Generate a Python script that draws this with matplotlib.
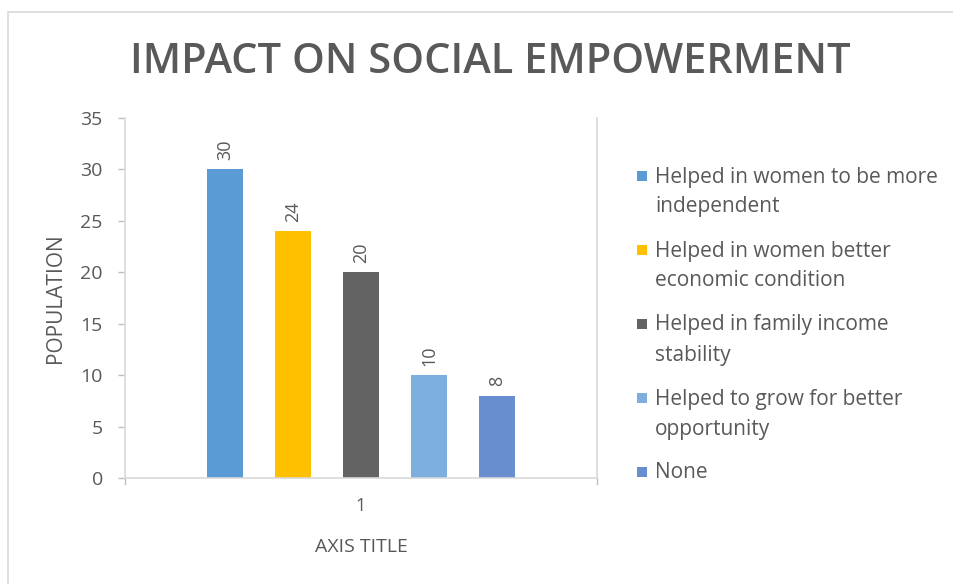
import matplotlib
matplotlib.use("Agg")
import matplotlib.pyplot as plt
from matplotlib.patches import Rectangle

plt.rcParams['font.family'] = ['Open Sans', 'DejaVu Sans']

categories = ["Helped in women to be more\nindependent",
              "Helped in women better\neconomic condition",
              "Helped in family income\nstability",
              "Helped to grow for better\nopportunity",
              "None"]
values = [30, 24, 20, 10, 8]
colors = ["#5b9bd5", "#ffc000", "#636363", "#7cafdd", "#698ed0"]
x_tick_labels = ["1"]
y_ticks = [0, 5, 10, 15, 20, 25, 30, 35]

W, H = 954, 584
fig = plt.figure(figsize=(W / 100, H / 100), dpi=100)
fig.patch.set_facecolor("white")

# outer chart border
fig.add_artist(Rectangle((8 / W, -0.1), 1.2, 1 - 12 / H + 0.1, transform=fig.transFigure,
                         fill=False, edgecolor="#d9d9d9", linewidth=1.2))

ax = fig.add_axes([125 / W, 1 - 478 / H, (597 - 125) / W, (478 - 118) / H])
txtc = "#595959"
spc = 0.144
bw = 0.0763
for i, (c, v, col) in enumerate(zip(categories, values, colors)):
    xpos = (i - 2) * spc
    ax.bar(xpos, v, width=bw, color=col, label=c)
    ax.text(xpos, v + 0.9, str(v), rotation=90, ha="center", va="bottom",
            fontsize=13, color=txtc)

ax.set_xlim(-0.5, 0.5)
ax.set_ylim(0, 35)
ax.set_yticks(y_ticks)
ax.set_xticks([0])
ax.set_xticklabels(x_tick_labels)
ax.tick_params(axis="y", colors="#bfbfbf", labelcolor=txtc, labelsize=14, length=5, width=1, pad=11)
ax.tick_params(axis="x", length=0, labelcolor=txtc, labelsize=13, pad=14)
# category boundary ticks on x axis
for xb in (-0.5, 0.5):
    ax.plot([xb, xb], [0, -0.6], color="#bfbfbf", lw=1, clip_on=False)
ax.spines["top"].set_visible(False)
for s in ("left", "bottom", "right"):
    ax.spines[s].set_color("#d9d9d9")
    ax.spines[s].set_linewidth(1.2)

ax.set_ylabel("POPULATION", fontsize=15, color=txtc, labelpad=10)
ax.set_xlabel("AXIS TITLE", fontsize=14, color=txtc, labelpad=16)

fig.text(490 / W, 1 - 62 / H, "IMPACT ON SOCIAL EMPOWERMENT", ha="center", va="center",
         fontsize=30, fontweight="semibold", color=txtc)

# legend (square aligned with the first text line, as in the original)
leg_x_sq, leg_x_txt, leg_y0, leg_dy, line_dy, sq = 637, 655, 176, 74, 30, 10
for i, (c, col) in enumerate(zip(categories, colors)):
    yc = leg_y0 + leg_dy * i
    fig.add_artist(Rectangle((leg_x_sq / W, 1 - (yc + sq / 2) / H), sq / W, sq / H,
                             transform=fig.transFigure, facecolor=col, edgecolor="none"))
    for j, line in enumerate(c.split("\n")):
        fig.text(leg_x_txt / W, 1 - (yc + line_dy * j + 1) / H, line, ha="left", va="center",
                 fontsize=15, color=txtc)

fig.savefig("out.png", dpi=100, facecolor="white")
